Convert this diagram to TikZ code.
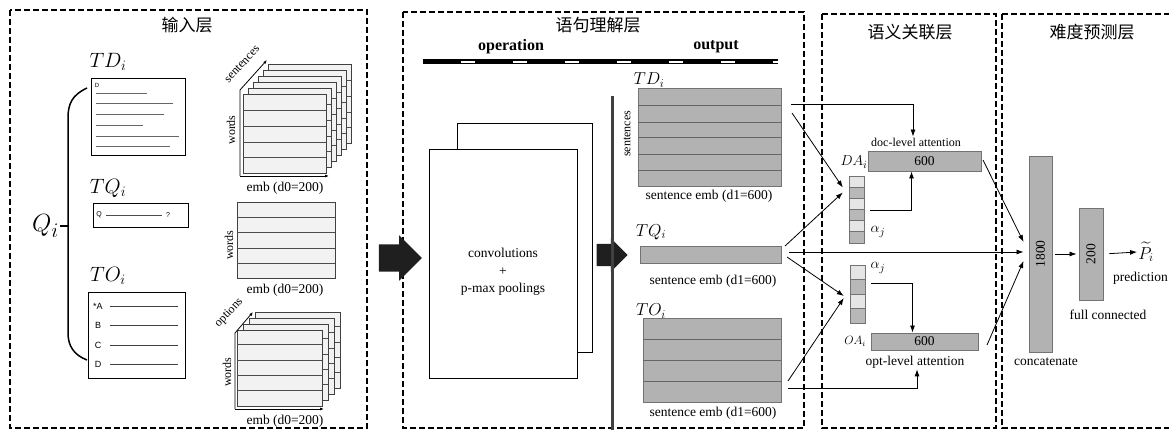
\documentclass[tikz,border=0pt]{standalone}
\usepackage{amsmath}
\usepackage{fontspec}
\setmainfont{Liberation Serif}
\newfontfamily\cjk{Noto Sans CJK SC}
\newfontfamily\sans{Liberation Sans}
\usetikzlibrary{arrows.meta, shapes.arrows, fit}

\definecolor{embgray}{gray}{0.70}
\definecolor{cellA}{gray}{0.90}
\definecolor{cellB}{gray}{0.72}
\definecolor{stackfill}{gray}{0.95}

\begin{document}
\begin{tikzpicture}[x=1pt, y=-1pt,
  panel/.style={draw, line width=1.1pt, dash pattern=on 6pt off 3pt},
  title/.style={font=\cjk\fontsize{17}{17}\selectfont},
  lbl/.style={font=\fontsize{13.5}{17.5}\selectfont, inner sep=1pt},
  small/.style={font=\fontsize{12}{14}\selectfont, inner sep=1pt},
  mlbl/.style={font=\fontsize{20}{20}\selectfont, inner sep=0pt},
  paper/.style={draw, line width=0.9pt, fill=white, inner sep=0pt},
  stack/.style={draw=black!75, line width=0.8pt, fill=stackfill},
  rowline/.style={draw=black!70, line width=0.7pt},
  emb/.style={draw=black!55, line width=0.9pt, fill=embgray, inner sep=0pt},
  arr/.style={-{Latex[length=7pt,width=5pt]}, line width=0.8pt},
  axis/.style={-{Latex[length=4pt,width=3pt]}, line width=0.8pt},
  fat/.style={single arrow, fill=black!88, inner xsep=0pt, single arrow tip angle=90}]
  \useasboundingbox (0,0) rectangle (1169,430);
  \clip (0,0) rectangle (1169,430);

  % panels
  \draw[panel] (10,10) rectangle (367,428);
  \draw[panel] (403,12) rectangle (804,428);
  \draw[panel] (822,14) rectangle (996,428);
  \draw[panel] (1002,14) rectangle (1185,428);
  \node[title] (inTitle) at (187,25) {输入层};
  \node[title] (senTitle) at (598,25) {语句理解层};
  \node[title] (relTitle) at (910,32) {语义关联层};
  \node[title] (preTitle) at (1092,32) {难度预测层};

  % input layer
  \node[font=\fontsize{31}{31}\selectfont, inner sep=1pt, anchor=east] (Q) at (60,226) {$Q_i$};
  \coordinate (braceMid) at (68,226);
  \draw[line width=1.5pt] (Q.east) -- (Q.east -| braceMid);
  \draw[line width=1.5pt] (87,88) .. controls (72,95) and (68,104) .. (68,118) -- (68,333)
    .. controls (68,346) and (74,355) .. (87,360);

  \node[mlbl] (tdLbl) at (108,62) {$TD_i$};
  \node[paper, fit={(91,78) (185,155)}] (tdBox) {};
  \node[font=\sans\fontsize{6}{6}\selectfont, inner sep=0pt] (tdD) at (97,85) {D};
  \foreach \y/\e in {93/147, 103/173, 114/164, 125/143, 136/179, 146/170}
    \draw[black!60, line width=0.8pt] (96,\y) -- (\e,\y);

  \node[mlbl] (tqLbl) at (108,188) {$TQ_i$};
  \node[paper, fit={(93,203) (188,227)}] (tqBox) {};
  \node[font=\sans\fontsize{7}{7}\selectfont, inner sep=0pt] (tqQ) at (99,215) {Q};
  \node[font=\sans\fontsize{7}{7}\selectfont, inner sep=0pt] (tqM) at (168,215) {?};
  \draw[black!70, line width=0.7pt] (tqQ.east) ++(4,0) -- ([xshift=-4pt]tqM.west);

  \node[mlbl] (toLbl) at (108,276) {$TO_i$};
  \node[paper, fit={(88,292) (185,378)}] (toBox) {};
  \foreach \y/\t in {306/*A, 325/B, 345/C, 364/D} {
    \node[font=\sans\fontsize{9}{9}\selectfont, inner sep=0pt] at (98,\y) {\t};
    \draw[black!75, line width=0.8pt] (110,\y) -- (178,\y);
  }

  % word embedding stacks
  \foreach \k in {5,4,3,2,1,0} {
    \begin{scope}[shift={(5*\k,-6*\k)}]
      \draw[stack] (243,94) rectangle (326,173);
      \foreach \y in {110,126,142,157} \draw[rowline] (243,\y) -- (326,\y);
    \end{scope}
  }
  \draw[axis] (240,176) -- (240,90) -- (267,60);
  \draw[axis] (240,176) -- (329,176);
  \node[small, rotate=47] (sLbl) at (242,64) {sentences};
  \node[small, rotate=90] (wLbl1) at (231,130) {words};
  \node[lbl] (eLbl1) at (285,188) {emb (d0=200)};

  \draw[stack] (237,202) rectangle (335,278);
  \foreach \y in {217,232,248,263} \draw[rowline] (237,\y) -- (335,\y);
  \node[small, rotate=90] (wLbl2) at (229,245) {words};
  \node[lbl] (eLbl2) at (285,290) {emb (d0=200)};

  \foreach \k in {3,2,1,0} {
    \begin{scope}[shift={(6*\k,-6*\k)}]
      \draw[stack] (237,330) rectangle (322,406);
      \foreach \y in {344,360,375,390} \draw[rowline] (237,\y) -- (322,\y);
    \end{scope}
  }
  \draw[axis] (235,409) -- (235,333) -- (253,312);
  \draw[axis] (235,409) -- (324,409);
  \node[small, rotate=47] (oLbl) at (229,313) {options};
  \node[small, rotate=90] (wLbl3) at (227,372) {words};
  \node[lbl] (eLbl3) at (285,421) {emb (d0=200)};

  % sentence layer
  \node[fat, minimum height=43pt, inner ysep=13.5pt, single arrow head extend=9pt] (fatA) at (393.5,258) {};
  \node[font=\fontsize{16}{16}\selectfont\bfseries] (opLbl) at (511,47) {operation};
  \node[font=\fontsize{16}{16}\selectfont\bfseries] (outLbl) at (716,47) {output};
  \coordinate (barL) at (423,62);
  \coordinate (barR) at (778,62);
  \draw[line width=5pt] (barL) -- (barR);
  \draw[white, line width=2pt, dash pattern=on 14pt off 38pt, dash phase=14pt] (barL) -- (barR);

  \node[paper, fit={(457,123) (592,352)}] (convBack) {};
  \node[paper, fit={(429,149) (577,378)}] (convFront) {};
  \node[lbl, align=center] (convLbl) at (503,272) {convolutions\\+\\p-max poolings};
  \node[fat, minimum height=31pt, inner ysep=11pt, single arrow head extend=5.5pt] (fatB) at (606.5,255) {};
  \draw[black!75, line width=3pt] (612,96) -- (612,432);

  \node[small, rotate=90] (sLbl2) at (627,134) {sentences};
  \node[font=\fontsize{17}{17}\selectfont, inner sep=0pt] (tdOutLbl) at (649,80) {$TD_i$};
  \node[emb, fit={(638,88) (781,186)}] (tdOut) {};
  \foreach \y in {105,122,137,154,170} \draw[black!60, line width=0.8pt] (638,\y) -- (781,\y);
  \node[lbl] (tdEmb) at (709,196) {sentence emb (d1=600)};

  \node[font=\fontsize{17}{17}\selectfont, inner sep=0pt] (tqOutLbl) at (651,232) {$TQ_i$};
  \node[emb, fit={(640,246) (781,263)}] (tqOut) {};
  \node[lbl] (tqEmb) at (713,281) {sentence emb (d1=600)};

  \node[font=\fontsize{17}{17}\selectfont, inner sep=0pt] (toOutLbl) at (651,311) {$TO_i$};
  \node[emb, fit={(643,318) (781,402)}] (toOut) {};
  \foreach \y in {339,360,381} \draw[black!60, line width=0.8pt] (643,\y) -- (781,\y);
  \node[lbl] (toEmb) at (713,413) {sentence emb (d1=600)};

  % semantic association layer
  \node[small] (docLbl) at (916,142) {doc-level attention};
  \node[emb, fit={(868,151) (981,171)}] (docBar) {};
  \node[lbl] at (docBar) {600};
  \node[font=\fontsize{15}{15}\selectfont, inner sep=0pt] (daLbl) at (854,162) {$DA_i$};
  \foreach \i/\c in {0/cellA,1/cellB,2/cellA,3/cellB,4/cellA,5/cellB}
    \draw[draw=black!55, line width=0.7pt, fill=\c] (849,176+11.17*\i) rectangle (864,187.17+11.17*\i);
  \node[inner sep=0pt, fit={(849,176) (864,243)}] (daCol) {};
  \node[font=\fontsize{15}{15}\selectfont, inner sep=0pt] (daAlpha) at (878,232) {$\alpha_j$};

  \foreach \i/\c in {0/cellA,1/cellB,2/cellA,3/cellB}
    \draw[draw=black!55, line width=0.7pt, fill=\c] (850,265+14.5*\i) rectangle (865,279.5+14.5*\i);
  \node[inner sep=0pt, fit={(850,265) (865,323)}] (oaCol) {};
  \node[font=\fontsize{15}{15}\selectfont, inner sep=0pt] (oaAlpha) at (878,268) {$\alpha_j$};
  \node[font=\fontsize{12}{12}\selectfont, inner sep=0pt] (oaLbl) at (855,341) {$OA_i$};
  \node[emb, fit={(871,333) (978,350)}] (optBar) {};
  \node[lbl] at (optBar) {600};
  \node[lbl] (optLbl) at (915,362) {opt-level attention};

  \coordinate (tdA) at (791,104);
  \coordinate (tdB) at (792,113);
  \coordinate (tqA) at (785,246);
  \coordinate (tqB) at (789,252);
  \coordinate (tqC) at (787,257);
  \coordinate (toA) at (788,381);
  \coordinate (toB) at (788,388);
  \coordinate (daOut) at (870,210);
  \coordinate (oaOut) at (871,283);
  \draw[arr] (tdA) -| ([xshift=-3pt]docLbl.north);
  \draw[arr] (tdB) -- ([xshift=-6pt,yshift=22pt]daCol.west);
  \draw[arr] (tqA) -- ([xshift=-6pt,yshift=17pt]daCol.west);
  \draw[arr] (daOut) -| ([xshift=-13pt]docBar.south);
  \draw[arr] (tqC) -- ([xshift=-6pt,yshift=-2pt]oaCol.west);
  \draw[arr] (toA) -- ([xshift=-6pt,yshift=-4pt]oaCol.west);
  \draw[arr] (oaOut) -| ([xshift=-12pt]optBar.north);
  \draw[arr] (toB) -| ([xshift=2pt]optLbl.south);

  % difficulty prediction layer
  \node[emb, fit={(1029,156) (1052,352)}] (concat) {};
  \node[lbl, rotate=90] at (concat) {1800};
  \node[lbl] (concatLbl) at (1046,362) {concatenate};
  \node[emb, fit={(1079,208) (1103,300)}] (fc) {};
  \node[lbl, rotate=90] at (fc) {200};
  \node[lbl] (fcLbl) at (1108,315) {full connected};
  \node[font=\fontsize{18}{18}\selectfont, inner sep=1pt] (pLbl) at (1146,252) {$\widetilde{P}_i$};
  \node[lbl, anchor=west] (predLbl) at (1112,278) {prediction};

  \draw[arr, shorten >=5pt] (tqB) -- (tqB -| concat.west);
  \coordinate (docE) at (983,160);
  \coordinate (optE) at (987,345);
  \draw[arr] (docE) -- ([xshift=-5pt,yshift=12pt]concat.west);
  \draw[arr] (optE) -- ([xshift=-5pt,yshift=-7pt]concat.west);
  \draw[arr, shorten <=3pt, shorten >=2pt] (concat.east) -- (fc.west);
  \draw[arr, shorten <=6pt] (fc.east) -- (pLbl.west);
\end{tikzpicture}
\end{document}
